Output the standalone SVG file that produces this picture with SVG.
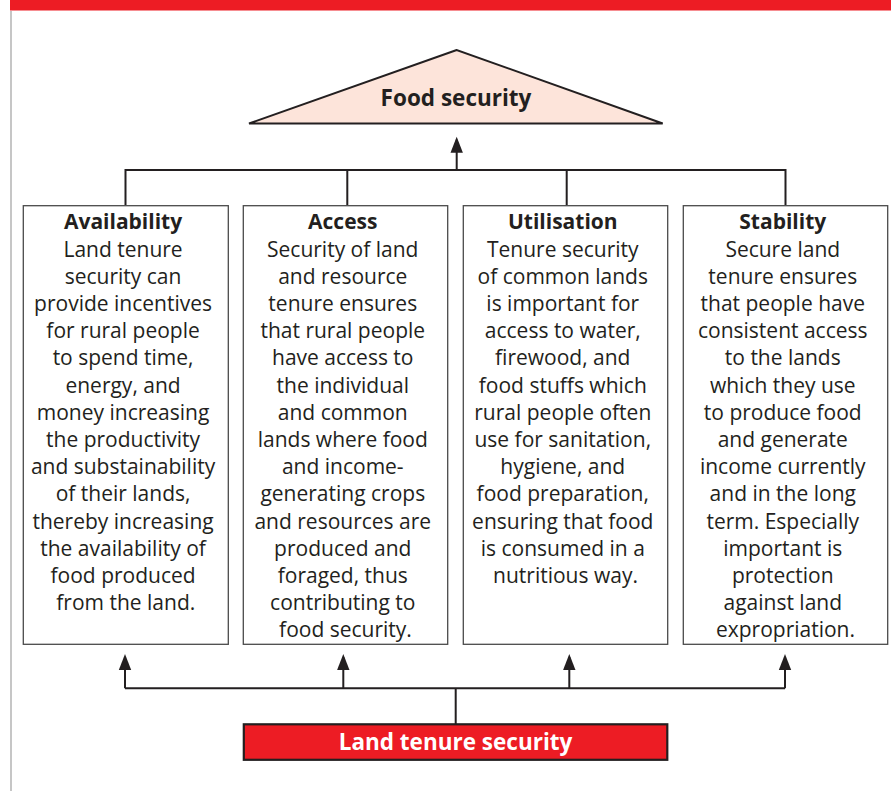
<svg xmlns="http://www.w3.org/2000/svg" width="891" height="791" viewBox="0 0 891 791">
<style>
.body{font-family:"Open Sans","Noto Sans",sans-serif;font-size:21px;fill:#231f20;text-anchor:middle}
.title{font-weight:bold}
.box{fill:#fff;stroke:#4a4a4a;stroke-width:1.3}
.con{fill:none;stroke:#231f20;stroke-width:2}
.big{font-family:"Open Sans","Noto Sans",sans-serif;font-size:22.5px;font-weight:bold;text-anchor:middle}
</style>
<defs>
<marker id="ah" markerUnits="userSpaceOnUse" markerWidth="17" markerHeight="14" viewBox="0 0 17 14" refX="13" refY="7" orient="auto">
<path d="M0,0.8 L16,7 L0,13.2 Z" fill="#231f20"/>
</marker>
</defs>
<rect x="10" y="0" width="881" height="10.5" fill="#ed1c24"/>
<line x1="11" y1="11" x2="11" y2="791" stroke="#b3b3b3" stroke-width="1.5"/>

<g id="food-security">
<polygon points="456.7,50 249,123.5 662.7,123.5" fill="#fde4da" stroke="#231f20" stroke-width="2"/>
<text class="big" x="456" y="106" fill="#231f20">Food security</text>
</g>

<g id="connectors">
<path class="con" d="M125.5,205 V170 H785.5 V205 M347.3,170 V205 M566.7,170 V205"/>
<path class="con" d="M456.7,170 V139.7" marker-end="url(#ah)"/>
<path class="con" d="M455.7,724 V688.3 M125,688.3 H785"/>
<path class="con" d="M125,688.3 V657" marker-end="url(#ah)"/>
<path class="con" d="M343.3,688.3 V657" marker-end="url(#ah)"/>
<path class="con" d="M569.3,688.3 V657" marker-end="url(#ah)"/>
<path class="con" d="M785,688.3 V657" marker-end="url(#ah)"/>
</g>

<g id="availability">
<rect class="box" x="23.3" y="205.7" width="205" height="438.6"/>
<text class="body" x="125.8" y="229.3">
<tspan class="title" x="125.8">Availability</tspan>
<tspan x="125.8" dy="27.2">Land tenure</tspan>
<tspan x="125.8" dy="27.2">security can</tspan>
<tspan x="125.8" dy="27.2">provide incentives</tspan>
<tspan x="125.8" dy="27.2">for rural people</tspan>
<tspan x="125.8" dy="27.2">to spend time,</tspan>
<tspan x="125.8" dy="27.2">energy, and</tspan>
<tspan x="125.8" dy="27.2">money increasing</tspan>
<tspan x="125.8" dy="27.2">the productivity</tspan>
<tspan x="125.8" dy="27.2">and substainability</tspan>
<tspan x="125.8" dy="27.2">of their lands,</tspan>
<tspan x="125.8" dy="27.2">thereby increasing</tspan>
<tspan x="125.8" dy="27.2">the availability of</tspan>
<tspan x="125.8" dy="27.2">food produced</tspan>
<tspan x="125.8" dy="27.2">from the land.</tspan>
</text>
</g>

<g id="access">
<rect class="box" x="243.3" y="205.7" width="204.4" height="438.6"/>
<text class="body" x="345.5" y="229.3">
<tspan class="title" x="345.5">Access</tspan>
<tspan x="345.5" dy="27.2">Security of land</tspan>
<tspan x="345.5" dy="27.2">and resource</tspan>
<tspan x="345.5" dy="27.2">tenure ensures</tspan>
<tspan x="345.5" dy="27.2">that rural people</tspan>
<tspan x="345.5" dy="27.2">have access to</tspan>
<tspan x="345.5" dy="27.2">the individual</tspan>
<tspan x="345.5" dy="27.2">and common</tspan>
<tspan x="345.5" dy="27.2">lands where food</tspan>
<tspan x="345.5" dy="27.2">and income-</tspan>
<tspan x="345.5" dy="27.2">generating crops</tspan>
<tspan x="345.5" dy="27.2">and resources are</tspan>
<tspan x="345.5" dy="27.2">produced and</tspan>
<tspan x="345.5" dy="27.2">foraged, thus</tspan>
<tspan x="345.5" dy="27.2">contributing to</tspan>
<tspan x="345.5" dy="27.2">food security.</tspan>
</text>
</g>

<g id="utilisation">
<rect class="box" x="463.3" y="205.7" width="204.4" height="438.6"/>
<text class="body" x="565.5" y="229.3">
<tspan class="title" x="565.5">Utilisation</tspan>
<tspan x="565.5" dy="27.2">Tenure security</tspan>
<tspan x="565.5" dy="27.2">of common lands</tspan>
<tspan x="565.5" dy="27.2">is important for</tspan>
<tspan x="565.5" dy="27.2">access to water,</tspan>
<tspan x="565.5" dy="27.2">firewood, and</tspan>
<tspan x="565.5" dy="27.2">food stuffs which</tspan>
<tspan x="565.5" dy="27.2">rural people often</tspan>
<tspan x="565.5" dy="27.2">use for sanitation,</tspan>
<tspan x="565.5" dy="27.2">hygiene, and</tspan>
<tspan x="565.5" dy="27.2">food preparation,</tspan>
<tspan x="565.5" dy="27.2">ensuring that food</tspan>
<tspan x="565.5" dy="27.2">is consumed in a</tspan>
<tspan x="565.5" dy="27.2">nutritious way.</tspan>
</text>
</g>

<g id="stability">
<rect class="box" x="683.3" y="205.7" width="204.4" height="438.6"/>
<text class="body" x="785.5" y="229.3">
<tspan class="title" x="785.5">Stability</tspan>
<tspan x="785.5" dy="27.2">Secure land</tspan>
<tspan x="785.5" dy="27.2">tenure ensures</tspan>
<tspan x="785.5" dy="27.2">that people have</tspan>
<tspan x="785.5" dy="27.2">consistent access</tspan>
<tspan x="785.5" dy="27.2">to the lands</tspan>
<tspan x="785.5" dy="27.2">which they use</tspan>
<tspan x="785.5" dy="27.2">to produce food</tspan>
<tspan x="785.5" dy="27.2">and generate</tspan>
<tspan x="785.5" dy="27.2">income currently</tspan>
<tspan x="785.5" dy="27.2">and in the long</tspan>
<tspan x="785.5" dy="27.2">term. Especially</tspan>
<tspan x="785.5" dy="27.2">important is</tspan>
<tspan x="785.5" dy="27.2">protection</tspan>
<tspan x="785.5" dy="27.2">against land</tspan>
<tspan x="785.5" dy="27.2">expropriation.</tspan>
</text>
</g>

<g id="land-tenure-security">
<rect x="243.8" y="724.3" width="423.5" height="35.5" fill="#ed1c24" stroke="#231f20" stroke-width="2.2"/>
<text class="big" x="455.5" y="750" fill="#fff">Land tenure security</text>
</g>
</svg>
